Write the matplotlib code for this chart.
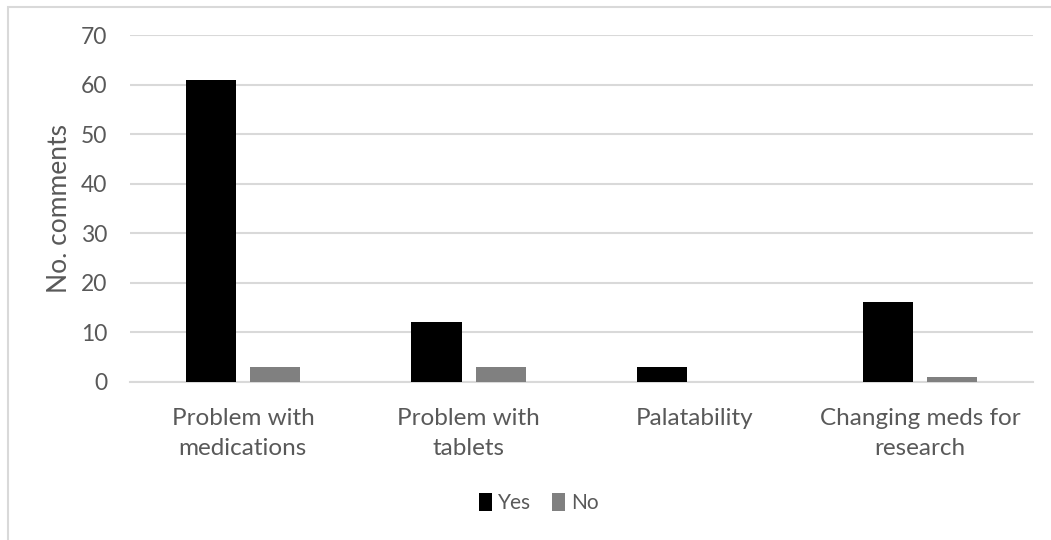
import numpy as np
import matplotlib.pyplot as plt
from matplotlib.patches import Rectangle

plt.rcParams['font.family'] = ['Lato', 'DejaVu Sans']

# data
categories = ['Problem with\nmedications', 'Problem with\ntablets', 'Palatability',
              'Changing meds for\nresearch']
yes_vals = [61, 12, 3, 16]
no_vals = [3, 3, 0, 1]

text_col = '#595959'
grid_col = '#d9d9d9'

fig = plt.figure(figsize=(10.51, 5.40), dpi=100)
ax = fig.add_axes([130/1051, 1 - 381.7/540, (1033 - 130)/1051, (381.7 - 35)/540])

x = np.arange(len(categories))
w = 0.223
ax.bar(x - 0.142, yes_vals, w, color='black', label='Yes', zorder=3)
ax.bar(x + 0.142, no_vals, w, color='#808080', label='No', zorder=3)

ax.set_xlim(-0.5, 3.5)
ax.set_ylim(0, 70)
ax.set_yticks(np.arange(0, 71, 10))
ax.yaxis.grid(True, color=grid_col, linewidth=1.5, zorder=0)
for s in ['top', 'right', 'left']:
    ax.spines[s].set_visible(False)
ax.spines['bottom'].set_color(grid_col)
ax.spines['bottom'].set_linewidth(1.5)
ax.tick_params(axis='y', length=0, colors=text_col, labelsize=16.5, pad=16.5)
ax.tick_params(axis='x', length=0, colors=text_col, labelsize=17.5, pad=19)
ax.set_xticks(x)
ax.set_xticklabels(categories, linespacing=1.55)
ax.set_ylabel('No. comments', fontsize=19, color=text_col, labelpad=6)

fig.legend(loc='center', bbox_to_anchor=(539/1051, 1 - 503/540), ncol=2, frameon=False,
           fontsize=15, handlelength=0.6, handleheight=1.0, handletextpad=0.3,
           columnspacing=1.0, labelcolor=text_col)

# chart frame
fig.patches.append(Rectangle((7.5/1051, -0.1), 1.2, 1 - 6.5/540 + 0.1, transform=fig.transFigure,
                             fill=False, edgecolor=grid_col, linewidth=1.5))

fig.savefig('out.png', dpi=100)
